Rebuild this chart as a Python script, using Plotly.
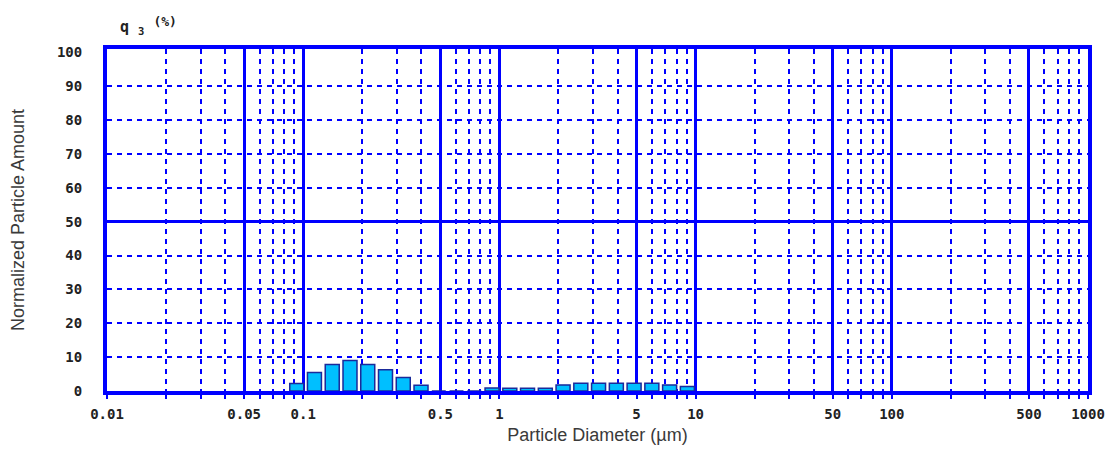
import numpy as np
import plotly.graph_objects as go

# ---- data ----
diameters_um = [0.0927, 0.1141, 0.1406, 0.1732, 0.2133, 0.2627, 0.3236, 0.3986,
                0.4909, 0.6046, 0.7447, 0.9173, 1.130, 1.391, 1.714, 2.111,
                2.600, 3.202, 3.945, 4.859, 5.984, 7.370, 9.078]
q3_percent = [2.2, 5.5, 7.8, 9.0, 7.8, 6.3, 4.0, 1.7,
              0.0, 0.0, 0.0, 0.9, 0.8, 0.8, 0.8, 1.8,
              2.3, 2.3, 2.3, 2.3, 2.3, 1.8, 1.3]

x_major_labels = ["0.01", "0.05", "0.1", "0.5", "1", "5", "10", "50", "100", "500", "1000"]
x_major_vals = [0.01, 0.05, 0.1, 0.5, 1, 5, 10, 50, 100, 500, 1000]
x_minor_mults = [2, 3, 4, 6, 7, 8, 9]
x_decades = [0.01, 0.1, 1, 10, 100]
y_tick_vals = [0, 10, 20, 30, 40, 50, 60, 70, 80, 90, 100]
y_minor_vals = [10, 20, 30, 40, 60, 70, 80, 90]
y_major_grid = [50]

BLUE = "#0000FF"
tick_font = dict(family="DejaVu Sans Mono", size=14, color="#222222", weight="bold")
title_font = dict(family="Liberation Sans", size=18, color="#3a3a3a")

x_minor_vals = [d * m for d in x_decades for m in x_minor_mults]

# the page body has an 8px default margin: size the figure to fill the window
PAGE_PAD = 8

fig = go.Figure()
fig.add_trace(go.Bar(
    x=np.log10(diameters_um),
    y=q3_percent,
    marker=dict(color="#00BFFF", line=dict(color="#1a2a9a", width=1.5)),
    hovertemplate="%{customdata} µm: %{y}<extra></extra>",
    customdata=diameters_um,
))
# invisible trace on overlay axis to carry the solid 50 gridline
fig.add_trace(go.Scatter(x=[None], y=[None], yaxis="y2", showlegend=False))

fig.update_layout(
    width=1115 - 2 * PAGE_PAD, height=453 - 2 * PAGE_PAD,
    margin=dict(l=107 - PAGE_PAD, r=27 - PAGE_PAD, t=49 - PAGE_PAD, b=62 - PAGE_PAD,
                autoexpand=False),
    paper_bgcolor="white", plot_bgcolor="white",
    showlegend=False, bargap=0.21,
    xaxis=dict(
        type="linear", range=[-2, 3], automargin=False,
        tickvals=np.log10(x_major_vals), ticktext=x_major_labels,
        tickfont=tick_font,
        showgrid=True, gridcolor=BLUE, gridwidth=3,
        showline=True, linecolor=BLUE, linewidth=4, mirror=True,
        ticks="outside", ticklen=4, tickcolor=BLUE, tickwidth=1.5,
        ticklabelstandoff=3,
        zeroline=False,
        minor=dict(tickvals=np.log10(x_minor_vals), showgrid=True, gridcolor=BLUE,
                   gridwidth=1.5, griddash="5px,5px", ticks="outside", ticklen=4,
                   tickcolor=BLUE, tickwidth=1.5),
        title=dict(text="Particle Diameter (µm)", font=title_font, standoff=14),
    ),
    yaxis=dict(
        range=[0, 101], tickvals=y_tick_vals, automargin=False,
        tickfont=tick_font, showgrid=False,
        showline=True, linecolor=BLUE, linewidth=4, mirror=True,
        ticks="", ticklabelstandoff=18, zeroline=False,
        minor=dict(tickvals=y_minor_vals, showgrid=True, gridcolor=BLUE,
                   gridwidth=1.5, griddash="5px,5px", ticks=""),
        title=dict(text="Normalized Particle Amount", font=title_font, standoff=35),
    ),
    yaxis2=dict(
        overlaying="y", matches="y", range=[0, 101], tickvals=y_major_grid,
        automargin=False,
        showticklabels=False, showgrid=True, gridcolor=BLUE, gridwidth=3,
        ticks="", showline=False, zeroline=False, side="left",
    ),
    annotations=[dict(
        text="q <sub>3</sub> <sup><span style='font-size:13px'>(%)</span></sup>",
        xref="paper", yref="paper",
        x=0.011, y=1.03, xanchor="left", yanchor="bottom", showarrow=False,
        font=dict(family="DejaVu Sans Mono", size=15, color="#222222", weight="bold"),
    )],
)

fig.write_html("out.html")
